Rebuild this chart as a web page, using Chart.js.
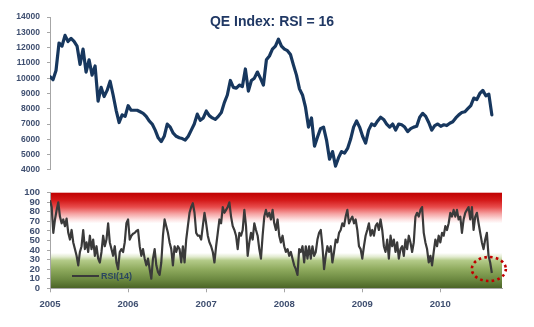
<!DOCTYPE html>
<html>
<head>
<meta charset="utf-8">
<script src="https://cdn.jsdelivr.net/npm/chart.js@4/dist/chart.umd.min.js"></script>
<style>
  html, body { margin: 0; padding: 0; background: #ffffff; }
  #wrap { position: relative; width: 534px; height: 327px; overflow: hidden;
          font-family: "Liberation Sans", Arial, sans-serif; }
  #priceCanvas { position: absolute; left: 0; top: 0; }
  #rsiCanvas { position: absolute; left: 0; top: 180px; }
  #title { position: absolute; left: 0; width: 544px; top: 13px; text-align: center;
           font-weight: bold; font-size: 14px; line-height: 16px; color: #203864; }
  #rsiKey { position: absolute; left: 72px; top: 270px; height: 12px; display: flex; align-items: center; }
  #rsiKey .swatch { width: 27px; height: 2px; background: #3a3a3a; margin-right: 2px; }
  #rsiKey .label { font-weight: bold; font-size: 9px; color: #2b4660; }
</style>
</head>
<body>
<div id="wrap">
  <canvas id="priceCanvas" width="534" height="182"></canvas>
  <canvas id="rsiCanvas" width="534" height="147"></canvas>
  <div id="title">QE Index: RSI = 16</div>
  <div id="rsiKey"><span class="swatch"></span><span class="label">RSI(14)</span></div>
</div>
<script>
// QE Index level, sampled roughly every two weeks from the start of 2005
const indexStart = 2005.0;
const indexEnd = 2010.66;
const qeIndex = [
  10100, 9900, 10500, 12300, 12100, 12800, 12400, 12600, 12400, 12100,
  10900, 11900, 10400, 11200, 10200, 10800, 8500, 9400, 8800, 9200,
  9800, 8900, 7900, 7100, 7600, 7500, 8200, 7900, 7900, 7900,
  7800, 7700, 7500, 7200, 7000, 6600, 6100, 5850, 6200, 7000,
  6800, 6400, 6200, 6100, 6050, 5950, 6200, 6600, 7000, 7650,
  7250, 7400, 7850, 7550, 7400, 7300, 7500, 7750, 8400, 8900,
  9850, 9400, 9350, 9550, 9450, 10600, 9150, 9850, 10000, 10400,
  10000, 9550, 11200, 11450, 11900, 12100, 12550, 12100, 11900, 11800,
  11550, 10850, 10200, 9300, 8900, 8100, 6800, 7400, 5550, 6150,
  6700, 6800, 5950, 4700, 5200, 4250, 4800, 5200, 5100, 5400,
  6000, 6800, 7200, 6800, 6200, 5750, 6600, 7000, 6900, 7200,
  7450, 7300, 7000, 6800, 7000, 6600, 7000, 6950, 6800, 6500,
  6700, 6800, 6850, 7450, 7700, 7500, 7100, 6600, 6900, 7000,
  6850, 6950, 6900, 7050, 7150, 7400, 7600, 7750, 7800, 8000,
  8200, 8700, 8600, 9000, 9200, 8850, 8950, 7600
];

// 14-period RSI, sampled roughly weekly over the same span
const rsiStart = 2005.0;
const rsiEnd = 2010.66;
const rsi14 = [
  92, 85, 58, 72, 82, 90, 75, 68, 72, 65,
  73, 58, 51, 61, 48, 41, 34, 24, 38, 44,
  61, 41, 48, 38, 55, 41, 51, 34, 44, 31,
  27, 38, 55, 44, 51, 68, 48, 41, 34, 44,
  27, 20, 38, 41, 38, 48, 68, 72, 51, 55,
  57, 58, 60, 61, 44, 34, 41, 31, 24, 31,
  20, 10, 31, 41, 24, 17, 14, 27, 55, 72,
  65, 58, 48, 41, 24, 44, 38, 44, 41, 27,
  44, 27, 51, 65, 79, 85, 89, 79, 58, 55,
  55, 51, 65, 79, 68, 55, 48, 44, 38, 27,
  44, 58, 72, 68, 85, 79, 82, 85, 90, 75,
  65, 61, 55, 41, 58, 55, 61, 82, 65, 34,
  48, 58, 51, 68, 61, 55, 41, 31, 55, 75,
  82, 75, 79, 72, 82, 68, 61, 72, 55, 48,
  55, 44, 38, 41, 34, 38, 31, 24, 20, 14,
  41, 38, 44, 27, 44, 31, 44, 31, 44, 34,
  38, 51, 58, 61, 44, 20, 34, 44, 38, 44,
  27, 38, 51, 48, 58, 61, 68, 65, 75,
  82, 68, 72, 75, 68, 72, 61, 44, 41, 31,
  44, 55, 61, 68, 55, 61, 55, 65, 68, 61,
  72, 61, 44, 38, 51, 31, 55, 44, 51, 38,
  48, 31, 41, 44, 34, 51, 41, 55, 48, 38,
  48, 75, 79, 75, 82, 85, 58, 48, 41, 27,
  34, 24, 38, 51, 44, 55, 48, 58, 55, 65,
  61, 68, 79, 75, 82, 75, 82, 72, 75, 58,
  72, 79, 82, 85, 72, 85, 61, 75, 79, 68,
  58, 48, 41, 51, 58, 34, 27, 16
];

// Axis ranges and tick values
const xMin = 2005;
const xMax = 2010.79;
const priceTicks = [4000, 5000, 6000, 7000, 8000, 9000, 10000, 11000, 12000, 13000, 14000];
const rsiTicks = [0, 10, 20, 30, 40, 50, 60, 70, 80, 90, 100];
const yearTicks = [2005, 2006, 2007, 2008, 2009, 2010];

// RSI zone shading: [rsi level, colour]
const zoneStops = [
  [100, '#c00000'], [92, '#d41a1a'], [85, '#e84c4c'], [78, '#f5a2a2'],
  [72, '#fde0e0'], [68, '#ffffff'], [37, '#ffffff'], [33, '#e2ebd0'],
  [29, '#b3ca88'], [20, '#8fab5e'], [9, '#6b8840'], [0, '#4a6326']
];

function spread(values, start, end) {
  const step = (end - start) / (values.length - 1);
  return values.map((v, i) => ({ x: start + i * step, y: v }));
}

const tickColor = '#3f4f70';
const axisColor = '#a6a6a6';

const zoneBackdrop = {
  id: 'zoneBackdrop',
  beforeDraw(chart) {
    const { ctx, chartArea: a, scales: { y } } = chart;
    const top = y.getPixelForValue(100);
    const bottom = y.getPixelForValue(0);
    const g = ctx.createLinearGradient(0, top, 0, bottom);
    zoneStops.forEach(([lvl, c]) => g.addColorStop((100 - lvl) / 100, c));
    ctx.save();
    ctx.fillStyle = g;
    ctx.fillRect(a.left, a.top, a.right - a.left, a.bottom - a.top);
    ctx.restore();
  }
};

// Dotted ring around the latest RSI reading
const latestRing = {
  id: 'latestRing',
  afterDatasetsDraw(chart) {
    const meta = chart.getDatasetMeta(0);
    const pt = meta.data[meta.data.length - 1];
    const ctx = chart.ctx;
    ctx.save();
    ctx.strokeStyle = '#c00000';
    ctx.lineWidth = 2.6;
    ctx.setLineDash([2.6, 3.2]);
    ctx.beginPath();
    ctx.ellipse(pt.x - 3, pt.y - 4, 17, 12, 0, 0, Math.PI * 2);
    ctx.stroke();
    ctx.restore();
  }
};

function fixedTicks(values) {
  return function (scale) {
    scale.ticks = values.map(v => ({ value: v }));
  };
}

new Chart(document.getElementById('priceCanvas'), {
  type: 'line',
  data: {
    datasets: [{
      data: spread(qeIndex, indexStart, indexEnd),
      borderColor: '#17375e',
      borderWidth: 3.2,
      pointRadius: 0,
      tension: 0,
      borderJoinStyle: 'round',
      borderCapStyle: 'round'
    }]
  },
  options: {
    responsive: false,
    animation: false,
    devicePixelRatio: 1,
    layout: { padding: { left: 0, right: 32, top: 17, bottom: 8 } },
    plugins: { legend: { display: false }, tooltip: { enabled: false } },
    scales: {
      x: { type: 'linear', min: xMin, max: xMax, display: false },
      y: {
        min: priceTicks[0], max: priceTicks[priceTicks.length - 1],
        afterBuildTicks: fixedTicks(priceTicks),
        afterFit(s) { s.width = 50; },
        ticks: {
          color: tickColor, padding: 7, autoSkip: false,
          font: { family: 'Liberation Sans', size: 8.5, weight: 'bold' },
          callback: v => String(v)
        },
        grid: { drawOnChartArea: false, drawTicks: true, tickLength: 3, color: axisColor },
        border: { display: true, color: axisColor }
      }
    }
  }
});

new Chart(document.getElementById('rsiCanvas'), {
  type: 'line',
  data: {
    datasets: [{
      data: spread(rsi14, rsiStart, rsiEnd),
      borderColor: '#3a3a3a',
      borderWidth: 2.2,
      pointRadius: 0,
      tension: 0,
      borderJoinStyle: 'round'
    }]
  },
  options: {
    responsive: false,
    animation: false,
    devicePixelRatio: 1,
    layout: { padding: { left: 0, right: 32, top: 10.7, bottom: 0 } },
    plugins: { legend: { display: false }, tooltip: { enabled: false } },
    scales: {
      x: {
        type: 'linear', min: xMin, max: xMax,
        afterBuildTicks: fixedTicks(yearTicks),
        afterFit(s) { s.height = 38.7; },
        ticks: {
          color: tickColor, padding: 6, maxRotation: 0, autoSkip: false,
          font: { family: 'Liberation Sans', size: 9.5, weight: 'bold' },
          callback: v => String(v)
        },
        grid: { drawOnChartArea: false, drawTicks: true, tickLength: 4, color: axisColor },
        border: { display: true, color: axisColor }
      },
      y: {
        min: 0, max: 100,
        afterBuildTicks: fixedTicks(rsiTicks),
        afterFit(s) { s.width = 50; },
        ticks: {
          color: tickColor, padding: 7, autoSkip: false,
          font: { family: 'Liberation Sans', size: 9.5, weight: 'bold' },
          callback: v => String(v)
        },
        grid: { drawOnChartArea: false, drawTicks: true, tickLength: 3, color: axisColor },
        border: { display: true, color: axisColor }
      }
    }
  },
  plugins: [zoneBackdrop, latestRing]
});
</script>
</body>
</html>
